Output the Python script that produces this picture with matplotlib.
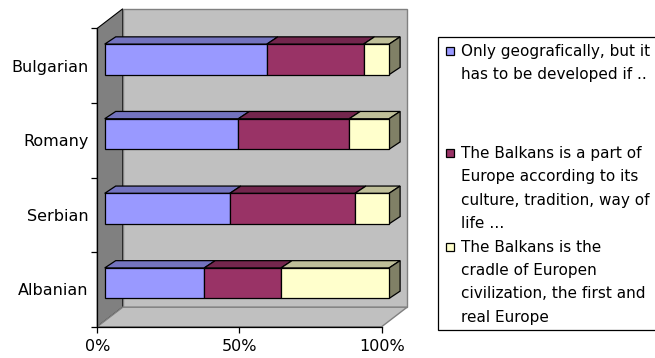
import numpy as np
import matplotlib.pyplot as plt
from matplotlib.colors import to_rgb
from matplotlib.patches import Polygon, Rectangle

# answers per nationality, share of respondents in %
groups = ["Albanian", "Serbian", "Romany", "Bulgarian"]
series_labels = [
    "Only geografically, but it\nhas to be developed if ..",
    "The Balkans is a part of\nEurope according to its\nculture, tradition, way of\nlife \u2026",
    "The Balkans is the\ncradle of Europen\ncivilization, the first and\nreal Europe",
]
geographically = [35, 44, 47, 57]
cultural = [27, 44, 39, 34]
cradle = [38, 12, 14, 9]
xtick_labels = ["0%", "50%", "100%"]

colors = ["#9999FF", "#993366", "#FFFFCC"]

W, H = 655, 358
FS = 11.5
LEG_FS = 11

fig = plt.figure(figsize=(W / 100, H / 100), dpi=100)
ax = fig.add_axes([97.3 / W, 1 - 326.7 / H, 284.4 / W, 298.4 / H])
ax.set_xlim(0, 100)
ax.set_ylim(0, len(groups))

# pixel -> data unit factors for the fake 3d offsets
ux = 100 / 284.4
uy = len(groups) / 298.4
wall_dx, wall_dy = 25.4 * ux, 19.5 * uy
bar_dx, bar_dy = 7.4 * ux, 6.2 * uy
deep_dx, deep_dy = 11.0 * ux, 7.3 * uy
bar_h = 30.5 * uy

ny = len(groups)
# walls and floor
ax.add_patch(Polygon([(0, 0), (0, ny), (wall_dx, ny + wall_dy), (wall_dx, wall_dy)],
                     closed=True, fc="#808080", ec="black", lw=0.8, clip_on=False, zorder=0))
ax.add_patch(Rectangle((wall_dx, wall_dy), 100, ny, fc="#c0c0c0", ec="#808080",
                       lw=1.0, clip_on=False, zorder=0))
ax.add_patch(Polygon([(0, 0), (100, 0), (100 + wall_dx, wall_dy), (wall_dx, wall_dy)],
                     closed=True, fc="#c0c0c0", ec="#808080", lw=1.0, clip_on=False, zorder=0))


def shade(c, f):
    r, g, b = to_rgb(c)
    return (r * f, g * f, b * f)


ypos = np.arange(ny) + 0.5 + bar_dy
left = np.zeros(ny)
series = [geographically, cultural, cradle]
for j, vals in enumerate(series):
    vals = np.array(vals, dtype=float)
    bars = ax.barh(ypos, vals, left=left + bar_dx, height=bar_h, color=colors[j],
                   edgecolor="black", lw=0.9, zorder=3, clip_on=False)
    for p in bars.patches:
        x0, y0, w, h = p.get_x(), p.get_y(), p.get_width(), p.get_height()
        top = [(x0, y0 + h), (x0 + w, y0 + h), (x0 + w + deep_dx, y0 + h + deep_dy),
               (x0 + deep_dx, y0 + h + deep_dy)]
        ax.add_patch(Polygon(top, closed=True, fc=shade(colors[j], 0.75), ec="black",
                             lw=0.9, zorder=2, clip_on=False))
        if j == len(series) - 1:
            x1 = x0 + w
            side = [(x1, y0), (x1, y0 + h), (x1 + deep_dx, y0 + h + deep_dy),
                    (x1 + deep_dx, y0 + deep_dy)]
            ax.add_patch(Polygon(side, closed=True, fc=shade(colors[j], 0.5), ec="black",
                                 lw=0.9, zorder=2, clip_on=False))
    left += vals

for s in ["top", "right"]:
    ax.spines[s].set_visible(False)
for s in ["left", "bottom"]:
    ax.spines[s].set_color("black")
    ax.spines[s].set_linewidth(0.9)
    ax.spines[s].set_zorder(4)

ax.set_xticks([0, 50, 100])
ax.set_xticklabels(xtick_labels, fontsize=FS)
ax.tick_params(axis="x", direction="out", length=4.5, width=0.9, pad=4)
ax.set_yticks(np.arange(ny + 1))
ax.set_yticklabels([])
ax.tick_params(axis="y", which="major", direction="out", length=4, width=0.9)
ax.set_yticks(np.arange(ny) + 0.5, minor=True)
ax.set_yticklabels(groups, minor=True, fontsize=FS)
ax.tick_params(axis="y", which="minor", length=0, pad=6.5)
ax.patch.set_visible(False)

# legend box on the right
fig.add_artist(Rectangle((438 / W, 1 - 330 / H), 240 / W, 293 / H, fc="white", ec="black",
                         lw=0.9, transform=fig.transFigure))
entry_base = [56, 157.7, 251.5]
pitch = 23.5
for j, lab in enumerate(series_labels):
    b = entry_base[j]
    fig.add_artist(Rectangle((446 / W, 1 - (b - 1) / H), 8 / W, 8 / H, fc=colors[j],
                             ec="black", lw=0.9, transform=fig.transFigure))
    for k, line in enumerate(lab.split("\n")):
        fig.text(461 / W, 1 - (b + k * pitch) / H, line, fontsize=LEG_FS, va="baseline")

plt.savefig("out.png", dpi=100)
